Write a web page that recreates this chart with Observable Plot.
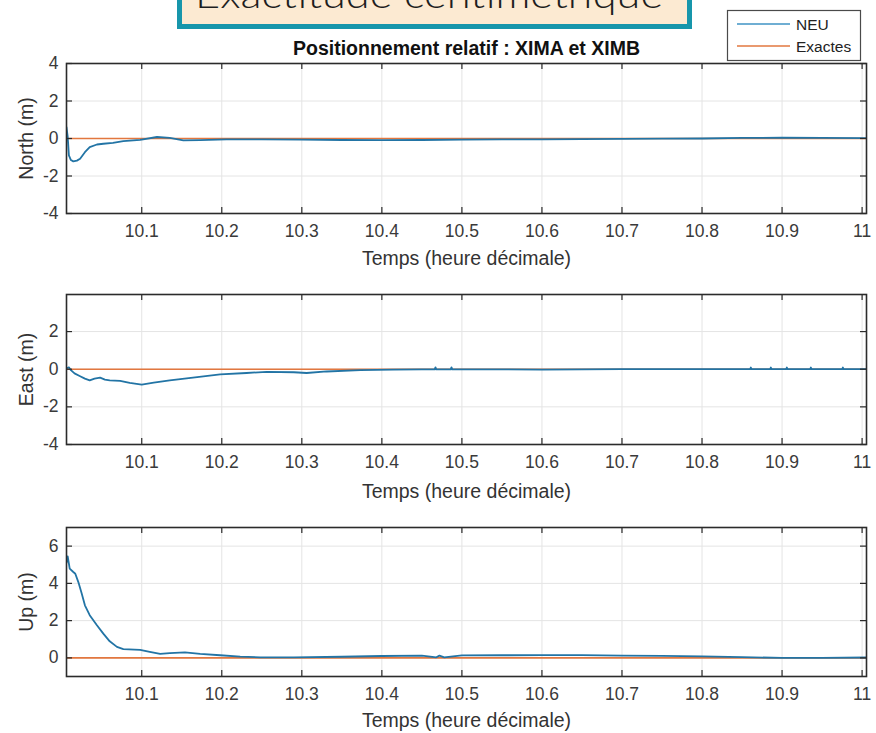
<!DOCTYPE html>
<html>
<head>
<meta charset="utf-8">
<script src="https://cdn.jsdelivr.net/npm/d3@7"></script>
<script src="https://cdn.jsdelivr.net/npm/@observablehq/plot@0.6"></script>
<style>
  body { margin: 0; background: #fff; }
  #root { position: relative; width: 876px; height: 733px; overflow: hidden; background: #fff; }
  .panel { position: absolute; left: 0; }
  #overlay { position: absolute; left: 0; top: 0; }
</style>
</head>
<body>
<div id="root"></div>
<script>
// ---- data ----
const xTicks = [10.1, 10.2, 10.3, 10.4, 10.5, 10.6, 10.7, 10.8, 10.9, 11];
const xDomain = [10.006, 11.0055];

const exactT = [10.006, 11.0055];
const exactV = [0, 0];

const northT = [10.006, 10.0075, 10.009, 10.0115, 10.0145, 10.019, 10.023, 10.029, 10.035, 10.044, 10.052, 10.064, 10.077, 10.098, 10.119, 10.135, 10.152, 10.173, 10.206, 10.25, 10.3, 10.35, 10.4, 10.45, 10.5, 10.55, 10.6, 10.65, 10.7, 10.75, 10.8, 10.85, 10.9, 10.95, 11.0055];
const northV = [0.6, 0.1, -0.9, -1.15, -1.22, -1.18, -1.08, -0.73, -0.46, -0.32, -0.28, -0.23, -0.14, -0.07, 0.08, 0.03, -0.1, -0.09, -0.05, -0.05, -0.06, -0.08, -0.09, -0.08, -0.06, -0.05, -0.05, -0.03, -0.02, -0.01, 0.0, 0.03, 0.04, 0.03, 0.02];
const northTicks = [-4, -2, 0, 2, 4];

const eastT = [10.006, 10.009, 10.0115, 10.016, 10.023, 10.029, 10.035, 10.041, 10.048, 10.054, 10.06, 10.073, 10.085, 10.1, 10.115, 10.135, 10.164, 10.198, 10.231, 10.256, 10.29, 10.306, 10.331, 10.373, 10.414, 10.45, 10.466, 10.467, 10.468, 10.486, 10.487, 10.488, 10.5, 10.55, 10.6, 10.65, 10.7, 10.75, 10.8, 10.86, 10.861, 10.862, 10.885, 10.886, 10.887, 10.905, 10.906, 10.907, 10.935, 10.936, 10.937, 10.975, 10.976, 10.977, 11.0055];
const eastV = [0.05, 0.1, -0.05, -0.22, -0.37, -0.5, -0.59, -0.5, -0.45, -0.55, -0.59, -0.62, -0.73, -0.82, -0.71, -0.59, -0.45, -0.27, -0.2, -0.14, -0.16, -0.2, -0.12, -0.05, -0.02, -0.01, -0.01, 0.1, -0.01, -0.01, 0.1, -0.01, -0.01, -0.01, -0.02, -0.01, 0.0, 0.0, 0.0, 0.0, 0.09, 0.0, 0.0, 0.09, 0.0, 0.0, 0.09, 0.0, 0.0, 0.09, 0.0, 0.0, 0.09, 0.0, 0.0];
const eastTicks = [-4, -2, 0, 2];

const upT = [10.006, 10.0075, 10.010, 10.0145, 10.017, 10.0208, 10.025, 10.029, 10.035, 10.044, 10.052, 10.06, 10.069, 10.077, 10.098, 10.11, 10.123, 10.135, 10.154, 10.173, 10.198, 10.223, 10.248, 10.29, 10.35, 10.4, 10.45, 10.468, 10.472, 10.478, 10.5, 10.55, 10.6, 10.65, 10.7, 10.75, 10.8, 10.85, 10.9, 10.95, 11.0055];
const upV = [5.1, 5.45, 4.79, 4.61, 4.52, 4.07, 3.45, 2.82, 2.29, 1.75, 1.3, 0.89, 0.59, 0.47, 0.43, 0.32, 0.21, 0.25, 0.3, 0.21, 0.14, 0.07, 0.03, 0.03, 0.06, 0.1, 0.12, 0.03, 0.12, 0.03, 0.13, 0.14, 0.15, 0.15, 0.12, 0.11, 0.08, 0.04, 0.0, 0.0, 0.02];
const upTicks = [0, 2, 4, 6];

const seriesNames = ["NEU", "Exactes"];
const titleText = "Positionnement relatif : XIMA et XIMB";
const xLabel = "Temps (heure décimale)";
const bannerText = "Exactitude centimétrique";

// ---- style ----
const BLUE = "#2274a5";
const ORANGE = "#e2773f";
const GRID = "#e4e4e4";
const AX = "#2b2b2b";
const FONT = "'Liberation Sans', Arial, Helvetica, sans-serif";
const W = 876, ML = 66, MR = 10;
const fmt = d => (d < 0 ? "-" + (-d) : String(d));

function panel(cfg) {
  const {t, v, yDomain, yTicks, yLabel, top, mTop, h, mBottom, xLabelDy, title} = cfg;
  const fw = W - ML - MR;
  const neu = t.map((x, i) => ({x, y: v[i]}));
  const ex = exactT.map((x, i) => ({x, y: exactV[i]}));
  const marks = [
    Plot.gridX(xTicks, {stroke: GRID, strokeOpacity: 1, strokeWidth: 1}),
    Plot.gridY(yTicks, {stroke: GRID, strokeOpacity: 1, strokeWidth: 1}),
    Plot.line(ex, {x: "x", y: "y", stroke: ORANGE, strokeWidth: 1.6, clip: true}),
    Plot.line(neu, {x: "x", y: "y", stroke: BLUE, strokeWidth: 1.8, clip: true}),
    Plot.ruleX(xTicks, {insetTop: h - 6, stroke: AX, strokeWidth: 1.2}),
    Plot.ruleX(xTicks, {insetBottom: h - 6, stroke: AX, strokeWidth: 1.2}),
    Plot.ruleY(yTicks, {insetRight: fw - 6, stroke: AX, strokeWidth: 1.2}),
    Plot.ruleY(yTicks, {insetLeft: fw - 6, stroke: AX, strokeWidth: 1.2}),
    Plot.frame({stroke: AX, strokeWidth: 1.6}),
    Plot.axisX(xTicks, {tickSize: 0, tickPadding: 11, tickFormat: fmt, label: null, fontSize: 17.5, fill: "#3a3a3a"}),
    Plot.axisY(yTicks, {tickSize: 0, tickPadding: 8, tickFormat: fmt, label: null, fontSize: 17.5, fill: "#3a3a3a"}),
    Plot.text([xLabel], {frameAnchor: "bottom", textAnchor: "middle", lineAnchor: "bottom", dy: xLabelDy, fontSize: 19.5, fill: "#333"}),
    Plot.text([yLabel], {frameAnchor: "left", textAnchor: "middle", lineAnchor: "middle", rotate: -90, dx: -40, fontSize: 19.5, fill: "#333"})
  ];
  if (title) {
    marks.push(Plot.text([title], {frameAnchor: "top", textAnchor: "middle", dy: -9, lineAnchor: "bottom", fontSize: 19.5, fontWeight: "bold", fill: "#111"}));
  }
  const p = Plot.plot({
    width: W,
    height: mTop + h + mBottom,
    marginLeft: ML, marginRight: MR, marginTop: mTop, marginBottom: mBottom,
    style: {fontFamily: FONT, fontSize: "17px", color: "#333", background: "transparent", overflow: "visible"},
    x: {domain: xDomain},
    y: {domain: yDomain},
    marks
  });
  p.classList.add("panel");
  p.style.top = top + "px";
  p.style.position = "absolute";
  return p;
}

const root = document.getElementById("root");
root.appendChild(panel({t: northT, v: northV, yDomain: [-4, 4], yTicks: northTicks, yLabel: "North (m)", top: 0, mTop: 63, h: 150, mBottom: 55, xLabelDy: 51, title: titleText}));
root.appendChild(panel({t: eastT, v: eastV, yDomain: [-4, 3.97], yTicks: eastTicks, yLabel: "East (m)", top: 268, mTop: 26, h: 150, mBottom: 55, xLabelDy: 53}));
root.appendChild(panel({t: upT, v: upV, yDomain: [-1, 7], yTicks: upTicks, yLabel: "Up (m)", top: 499, mTop: 28, h: 149, mBottom: 57, xLabelDy: 50}));

// ---- overlay: banner + legend ----
const NS = "http://www.w3.org/2000/svg";
const ov = document.createElementNS(NS, "svg");
ov.setAttribute("id", "overlay");
ov.setAttribute("width", W);
ov.setAttribute("height", 80);
function el(tag, attrs, text) {
  const e = document.createElementNS(NS, tag);
  for (const k in attrs) e.setAttribute(k, attrs[k]);
  if (text != null) e.textContent = text;
  ov.appendChild(e);
  return e;
}
el("rect", {x: 179.5, y: -30, width: 510, height: 56.5, fill: "#fcead2", stroke: "#1796ab", "stroke-width": 5});
el("text", {x: 429, y: 8, "text-anchor": "middle", "font-family": "Lato, 'Open Sans', sans-serif", "font-weight": 300, "font-size": 38, fill: "#1e1e1e", textLength: 468, lengthAdjust: "spacingAndGlyphs"}, bannerText);
el("rect", {x: 727.5, y: 10.5, width: 133, height: 50, fill: "#fff", stroke: "#4a4a4a", "stroke-width": 1.2});
el("line", {x1: 737, x2: 790, y1: 24, y2: 24, stroke: "#3f93c4", "stroke-width": 1.5});
el("line", {x1: 737, x2: 790, y1: 46, y2: 46, stroke: ORANGE, "stroke-width": 1.5});
el("text", {x: 796, y: 29.5, "font-family": FONT, "font-size": 15.5, fill: "#222"}, seriesNames[0]);
el("text", {x: 796, y: 51.5, "font-family": FONT, "font-size": 15.5, fill: "#222"}, seriesNames[1]);
root.appendChild(ov);
</script>
</body>
</html>
